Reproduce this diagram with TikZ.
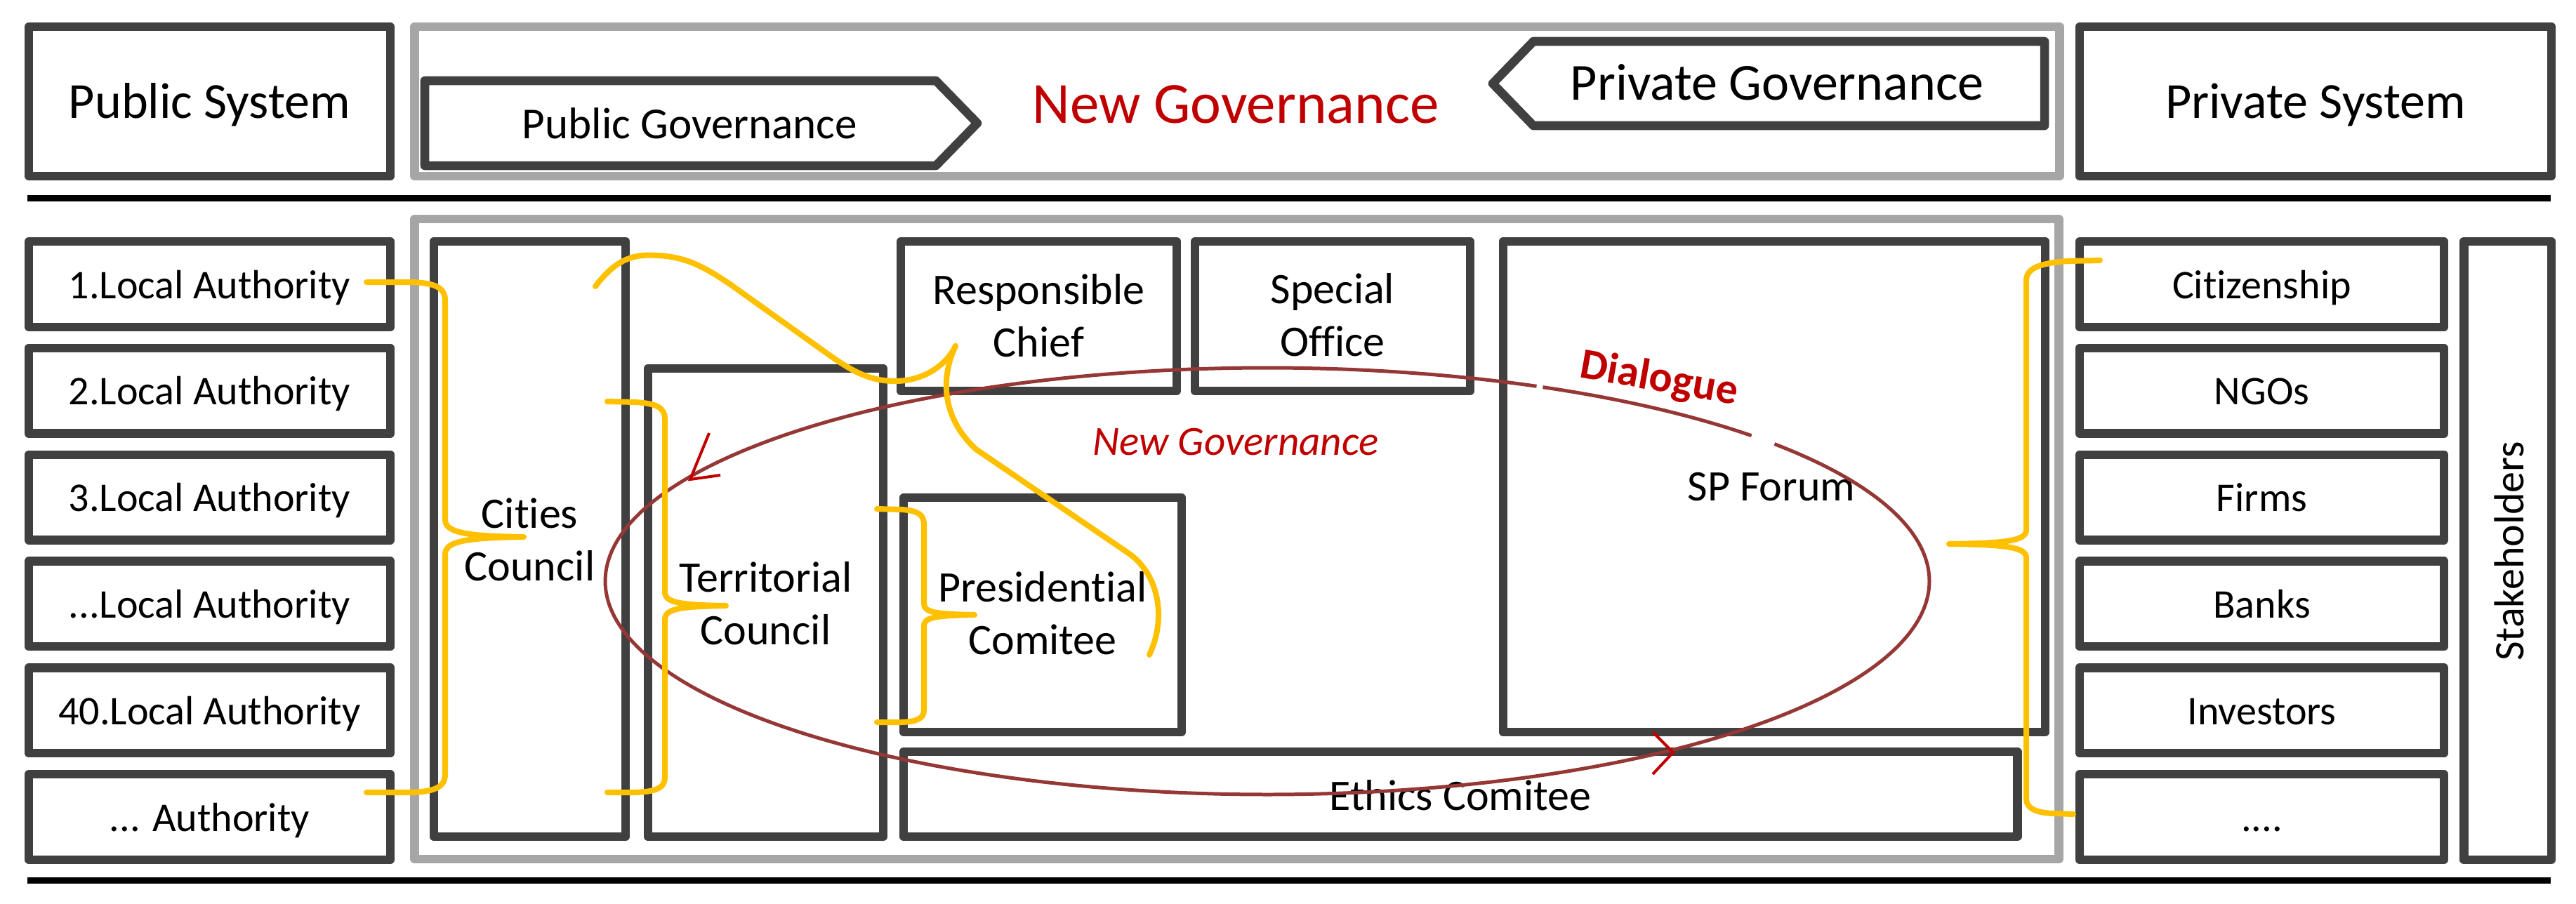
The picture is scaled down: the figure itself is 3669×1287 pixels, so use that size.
\documentclass[tikz,border=0pt]{standalone}
\usepackage{fontspec}
\setmainfont{Carlito}[Ligatures=NoCommon]
\definecolor{boxgray}{HTML}{404040}
\definecolor{framegray}{HTML}{A6A6A6}
\definecolor{gold}{HTML}{FFC000}
\definecolor{dlgred}{HTML}{953735}
\definecolor{brightred}{HTML}{C00000}
\tikzset{
  box/.style={rectangle, draw=boxgray, line width=3.56pt, line join=round, inner sep=0pt, outer sep=0pt},
  frame/.style={box, draw=framegray},
  colbox/.style={box, minimum width=5.145cm, minimum height=1.215cm},
  rcolbox/.style={box, minimum width=5.185cm, minimum height=1.215cm},
  arrowbox/.style={draw=boxgray, line width=3.56pt, line join=round},
  rule/.style={draw=black, line width=2.56pt},
  txt/.style={anchor=base, inner sep=0pt, outer sep=0pt},
  coltxt/.style={txt, font=\fontsize{16.5pt}{19.8pt}\selectfont},
  intxt/.style={txt, text width=#1, align=center, font=\fontsize{17.64pt}{21.34pt}\selectfont},
  inline/.style={txt, font=\fontsize{17.64pt}{21.34pt}\selectfont},
  bigtxt/.style={txt, font=\fontsize{20.49pt}{24pt}\selectfont},
  ybrace/.style={draw=gold, line width=2.28pt, line cap=round, line join=round},
  dlg/.style={draw=dlgred, line width=1.42pt},
  vtip/.style={draw=brightred, line width=1.14pt},
}
\begin{document}
\begin{tikzpicture}[x=0.01cm, y=-0.01cm]
\useasboundingbox (0,0) rectangle (3669,1287);

% ---------- top row ----------
\node[box, minimum width=5.145cm, minimum height=2.125cm] (pubsys) at (298.5,144.5) {};
\node[bigtxt] (pubsystxt) at (298.5,168) {Public System};
\node[frame, minimum width=23.415cm, minimum height=2.125cm] (govframe) at (1762,144.5) {};
\node[box, minimum width=6.715cm, minimum height=2.125cm] (privsys) at (3298,144.5) {};
\node[bigtxt] (privsystxt) at (3298,168) {Private System};

\draw[arrowbox] (605,115) -- (1333,115) -- (1392,175.5) -- (1333,236) -- (605,236) -- cycle;
\node[txt, font=\fontsize{17.93pt}{21pt}\selectfont] (pubgov) at (982.5,197) {Public Governance};
\draw[arrowbox] (2912,59) -- (2184,59) -- (2126,119) -- (2184,179) -- (2912,179) -- cycle;
\node[txt, font=\fontsize{21.06pt}{25pt}\selectfont] (privgov) at (2531,142) {Private Governance};
\node[txt, text=brightred, font=\fontsize{23.62pt}{28pt}\selectfont] (newgov) at (1760,175) {New Governance};

% ---------- rules ----------
\coordinate (r1a) at (39,282); \coordinate (r1b) at (3633,282);
\coordinate (r2a) at (39,1254); \coordinate (r2b) at (3633,1254);
\draw[rule] (r1a) -- (r1b);
\draw[rule] (r2a) -- (r2b);

% ---------- lower frame ----------
\node[frame, minimum width=23.405cm, minimum height=9.115cm] (lowframe) at (1761.5,768) {};

% ---------- left column ----------
\node[colbox] (la1) at (298.5,405) {};
\node[coltxt] (la1t) at (298.5,425) {1.Local Authority};
\node[colbox] (la2) at (298.5,556.8) {};
\node[coltxt] (la2t) at (298.5,576.8) {2.Local Authority};
\node[colbox] (la3) at (298.5,708.6) {};
\node[coltxt] (la3t) at (298.5,728.6) {3.Local Authority};
\node[colbox] (la4) at (298.5,860.4) {};
\node[coltxt] (la4t) at (298.5,880.4) {...Local Authority};
\node[colbox] (la5) at (298.5,1012.2) {};
\node[coltxt] (la5t) at (298.5,1032.2) {40.Local Authority};
\node[colbox] (la6) at (298.5,1164) {};
\node[coltxt] (la6t) at (298.5,1184) {... Authority};

% ---------- right column ----------
\node[rcolbox] (st1) at (3221.5,405) {};
\node[coltxt] (st1t) at (3221.5,425) {Citizenship};
\node[rcolbox] (st2) at (3221.5,556.8) {};
\node[coltxt] (st2t) at (3221.5,576.8) {NGOs};
\node[rcolbox] (st3) at (3221.5,708.6) {};
\node[coltxt] (st3t) at (3221.5,728.6) {Firms};
\node[rcolbox] (st4) at (3221.5,860.4) {};
\node[coltxt] (st4t) at (3221.5,880.4) {Banks};
\node[rcolbox] (st5) at (3221.5,1012.2) {};
\node[coltxt] (st5t) at (3221.5,1032.2) {Investors};
\node[rcolbox] (st6) at (3221.5,1164) {};
\node[coltxt] (st6t) at (3221.5,1184) {....};

\node[box, minimum width=1.245cm, minimum height=8.805cm] (stake) at (3571.5,784.5) {};
\node[txt, rotate=90, font=\fontsize{17.07pt}{20pt}\selectfont] (staket) at (3594,785.5) {Stakeholders};

% ---------- inner boxes ----------
\node[box, minimum width=2.725cm, minimum height=8.475cm] (cities) at (754.5,768) {};
\node[intxt=2.6cm] (citiest) at (754.5,752) {Cities\\Council};
\node[box, minimum width=3.345cm, minimum height=6.665cm] (terr) at (1090.5,858.5) {};
\node[intxt=3.2cm] (terrt) at (1090.5,843) {Territorial\\Council};
\node[box, minimum width=3.925cm, minimum height=2.125cm] (resp) at (1479.5,450.5) {};
\node[intxt=3.8cm] (respt) at (1479.5,433) {Responsible\\Chief};
\node[box, minimum width=3.915cm, minimum height=2.125cm] (spec) at (1898,450.5) {};
\node[intxt=3.8cm] (spect) at (1898,432) {Special\\Office};
\node[box, minimum width=7.715cm, minimum height=6.985cm] (forum) at (2527,693.5) {};
\node[inline] (forumt) at (2523,713) {SP Forum};
\node[box, minimum width=3.955cm, minimum height=3.335cm] (pres) at (1485,876) {};
\node[intxt=3.9cm] (prest) at (1485,857) {Presidential\\Comitee};
\node[box, minimum width=15.855cm, minimum height=1.205cm] (ethics) at (2080,1131.5) {};
\node[inline] (ethicst) at (2080,1154) {Ethics Comitee};

\node[txt, text=brightred, font=\itshape\fontsize{16.8pt}{20pt}\selectfont] (ngit) at (1760,648) {New Governance};
\node[rotate=-10, inner sep=0pt, text=brightred, font=\bfseries\fontsize{17.6pt}{20pt}\selectfont] (dialogue) at (2363,541) {Dialogue};

% ---------- dialogue ellipse ----------
\draw[dlg] plot[domain=-40:294, samples=260, smooth, variable=\t] ({1805+943*cos(\t)}, {828+304*sin(\t)});
\draw[dlg] plot[domain=-65.4:-43, samples=30, smooth, variable=\t] ({1805+943*cos(\t)}, {828+304*sin(\t)});
\draw[vtip] (1010,617) -- (983,683) -- (1026,677);
\draw[vtip] (2354,1043) -- (2383,1072) -- (2354,1103);

% ---------- yellow braces ----------
\coordinate (b1a) at (522,402); \coordinate (b1b) at (522,1129);
\draw[ybrace] (b1a) -- (585,402) .. controls (620,403) and (634,410) .. (634,428) -- (634,740)
  .. controls (634,758) and (660,764) .. (746,765) .. controls (660,766) and (634,772) .. (634,790)
  -- (634,1103) .. controls (634,1121) and (620,1128) .. (585,1129) -- (b1b);
\coordinate (b2a) at (865,572); \coordinate (b2b) at (865,1129);
\draw[ybrace] (b2a) -- (905,573) .. controls (935,575) and (947,580) .. (947,598) -- (947,843)
  .. controls (947,858) and (965,862) .. (1034,863) .. controls (965,864) and (947,868) .. (947,883)
  -- (947,1108) .. controls (947,1122) and (935,1128) .. (905,1129) -- (b2b);
\coordinate (b3a) at (1249,725); \coordinate (b3b) at (1249,1029);
\draw[ybrace] (b3a) -- (1285,726) .. controls (1308,728) and (1316,733) .. (1316,748) -- (1316,860)
  .. controls (1316,872) and (1330,875) .. (1388,876) .. controls (1330,877) and (1316,880) .. (1316,892)
  -- (1316,1012) .. controls (1316,1024) and (1305,1028) .. (1285,1029) -- (b3b);
\coordinate (b4a) at (2991,371); \coordinate (b4b) at (2953,1160);
\draw[ybrace] (b4a) -- (2945,372) .. controls (2905,375) and (2886,382) .. (2886,400) -- (2886,755)
  .. controls (2886,770) and (2860,774) .. (2776,775) .. controls (2860,776) and (2886,780) .. (2886,795)
  -- (2886,1138) .. controls (2886,1152) and (2900,1158) .. (2925,1159) -- (b4b);

% ---------- yellow wave ----------
\coordinate (w0) at (848,408); \coordinate (wc) at (1361,493); \coordinate (w1) at (1637,933);
\draw[ybrace] (w0) .. controls (880,366) and (905,362) .. (937,364)
  .. controls (975,366) and (1000,378) .. (1040,405) -- (1180,505)
  .. controls (1215,530) and (1240,543) .. (1275,543)
  .. controls (1310,543) and (1345,525) .. (wc);
\draw[ybrace] (wc) .. controls (1343,530) and (1336,590) .. (1390,640) -- (1610,790)
  .. controls (1650,820) and (1662,880) .. (w1);
\end{tikzpicture}
\end{document}
